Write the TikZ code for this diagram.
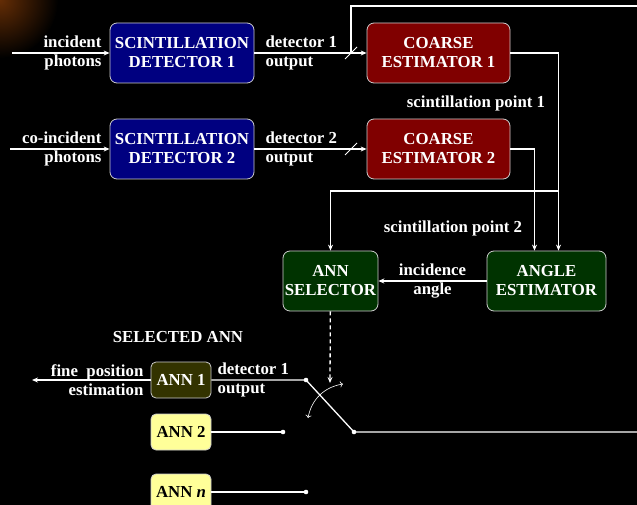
\documentclass[tikz,border=0pt]{standalone}
\usepackage{fontspec}
\setmainfont{Liberation Serif}
\usetikzlibrary{arrows.meta}
\definecolor{detblue}{RGB}{0,0,128}
\definecolor{estred}{RGB}{128,0,0}
\definecolor{anngreen}{RGB}{0,51,0}
\definecolor{annolive}{RGB}{51,51,0}
\definecolor{annyellow}{RGB}{255,255,153}
\definecolor{glow}{RGB}{100,45,5}

\begin{document}
\begin{tikzpicture}[x=1pt,y=-1pt,
    font=\bfseries\fontsize{16.8}{19}\selectfont,
    every node/.style={text=white, inner sep=2pt},
    box/.style={draw=white!80!black, line width=0.8pt, rounded corners=7pt,
      align=center, minimum height=60pt, inner sep=0pt},
    annbox/.style={draw=white!80!black, line width=0.8pt, rounded corners=5pt,
      minimum width=60pt, minimum height=36pt, inner sep=0pt},
    wire/.style={white, line width=1.3pt},
    arr/.style={wire, -{Stealth[length=6pt,width=5pt]}},
    lbl/.style={align=left, anchor=west}]
    \useasboundingbox (0,0) rectangle (637,505);
    \fill[black] (0,0) rectangle (637,505);
    \begin{scope}
        \clip (0,0) rectangle (637,505);
        \shade[inner color=glow, outer color=black] (0,0) circle (58);
    \end{scope}

    % detectors and coarse estimators
    \node[box, fill=detblue, minimum width=144pt] (det1) at (182,53) {SCINTILLATION\\DETECTOR 1};
    \node[box, fill=detblue, minimum width=144pt] (det2) at (182,149) {SCINTILLATION\\DETECTOR 2};
    \node[box, fill=estred, minimum width=143pt] (coarse1) at (438.5,53) {COARSE\\ESTIMATOR 1};
    \node[box, fill=estred, minimum width=143pt] (coarse2) at (438.5,149) {COARSE\\ESTIMATOR 2};
    \node[box, fill=anngreen, minimum width=95pt] (annsel) at (330.5,281) {ANN\\SELECTOR};
    \node[box, fill=anngreen, minimum width=119pt] (angle) at (546.5,281) {ANGLE\\ESTIMATOR};

    % inputs
    \coordinate (in1) at (12,53);
    \coordinate (in2) at (10,149);
    \draw[arr] (in1) -- (det1);
    \draw[arr] (in2) -- (det2);
    \node[anchor=east, align=right, xshift=-6pt] at (det1.west) {incident\\photons};
    \node[anchor=east, align=right, xshift=-6pt] at (det2.west) {co-incident\\photons};

    % detector outputs
    \draw[arr] (det1) -- (coarse1);
    \draw[arr] (det2) -- (coarse2);
    \node[lbl, xshift=9pt] at (det1.east) {detector 1\\output};
    \node[lbl, xshift=9pt] at (det2.east) {detector 2\\output};
    \coordinate (tap1) at (351,53);
    \coordinate (tap2) at (351,149);
    \coordinate (busR) at (640,6);
    \draw[wire] (tap1) |- (busR);
    \draw[white, line width=0.8pt] (tap1) ++(-6,6) -- ++(12,-12);
    \draw[white, line width=0.8pt] (tap2) ++(-6,6) -- ++(12,-12);

    % scintillation points
    \draw[arr] (coarse1.east) -| ([xshift=12pt]angle.north);
    \draw[arr] (coarse2.east) -| ([xshift=-12pt]angle.north);
    \coordinate (split) at (558.5,191);
    \draw[arr] (split) -| (annsel.north);
    \node at (476,103) {scintillation point 1};
    \node at (453,228) {scintillation point 2};

    \draw[arr] (angle) -- node[align=center] {incidence\\angle} (annsel);

    % ANN bank and switch
    \node at (178,337) {SELECTED ANN};
    \node[annbox, fill=annolive] (ann1) at (181,380) {ANN 1};
    \node[annbox, fill=annyellow, text=black] (ann2) at (181,432) {ANN 2};
    \node[annbox, fill=annyellow, text=black] (annn) at (181,492) {ANN {\itshape n}};

    \coordinate (selpt) at (330,383);
    \draw[arr, dashed, dash pattern=on 4pt off 3pt] (annsel) -- (selpt);

    \coordinate (estL) at (32,380);
    \coordinate (s1) at (306,380);
    \coordinate (s2) at (283,432);
    \coordinate (sn) at (306,492);
    \coordinate (sw) at (354,432);
    \coordinate (outR) at (640,432);
    \draw[arr] (ann1) -- (estL);
    \node[anchor=east, align=right, xshift=-5pt] at (ann1.west) {fine~~position\\estimation};
    \node[lbl, xshift=4pt] at (ann1.east) {detector 1\\output};
    \draw[wire] (ann1) -- (s1) -- (sw) -- (outR);
    \draw[wire] (ann2) -- (s2);
    \draw[wire] (annn) -- (sn);
    \foreach \p in {s1,s2,sn,sw}
        \fill[white] (\p) circle (2.3pt);
    \draw[white, line width=0.6pt, {To}-{To}] (308,418) to[bend left=35] (343,384);
\end{tikzpicture}
\end{document}
